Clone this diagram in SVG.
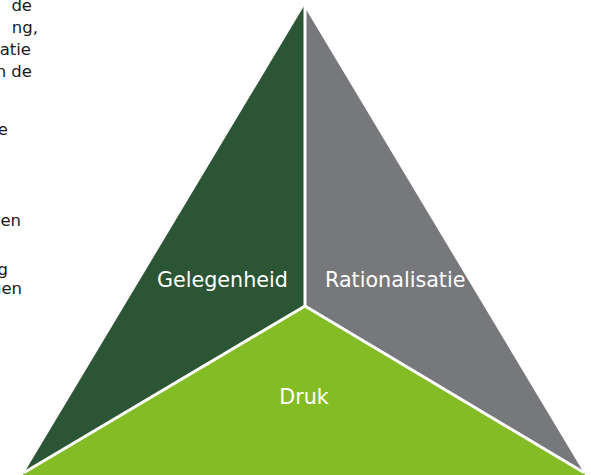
<svg xmlns="http://www.w3.org/2000/svg" width="591" height="475" viewBox="0 0 591 475">
  <style>
    .side { font-family: "DejaVu Sans", Verdana, sans-serif; font-size: 16.5px; fill: #1a1a1a; }
    .lbl { font-family: "DejaVu Sans", Verdana, sans-serif; font-size: 20.7px; fill: #ffffff; }
    .sep { stroke: #ffffff; stroke-width: 3; fill: none; stroke-linecap: round; }
  </style>
  <rect width="591" height="475" fill="#ffffff"/>
  <g id="side-text" class="side">
    <text x="32" y="11" text-anchor="end">de</text>
    <text x="38" y="33" text-anchor="end">ng,</text>
    <text x="31" y="55" text-anchor="end">atie</text>
    <text x="32" y="77" text-anchor="end">n de</text>
    <text x="8" y="135" text-anchor="end">e</text>
    <text x="21" y="226" text-anchor="end">en</text>
    <text x="8" y="275" text-anchor="end">g</text>
    <text x="22" y="294" text-anchor="end">gen</text>
  </g>
  <g id="gelegenheid">
    <polygon points="304,6 305,306 24,473" fill="#2c5535"/>
    <text class="lbl" x="157" y="287">Gelegenheid</text>
  </g>
  <g id="rationalisatie">
    <polygon points="304,6 584,473 305,306" fill="#77787b"/>
    <text class="lbl" x="325" y="287">Rationalisatie</text>
  </g>
  <g id="druk">
    <polygon points="305,306 24,473 22,476 586,476 584,473" fill="#84bc25"/>
    <text class="lbl" x="304" y="404" text-anchor="middle">Druk</text>
  </g>
  <g id="separators" class="sep">
    <line x1="305" y1="6" x2="305" y2="306"/>
    <line x1="305" y1="306" x2="25" y2="472"/>
    <line x1="305" y1="306" x2="583" y2="472"/>
  </g>
</svg>
